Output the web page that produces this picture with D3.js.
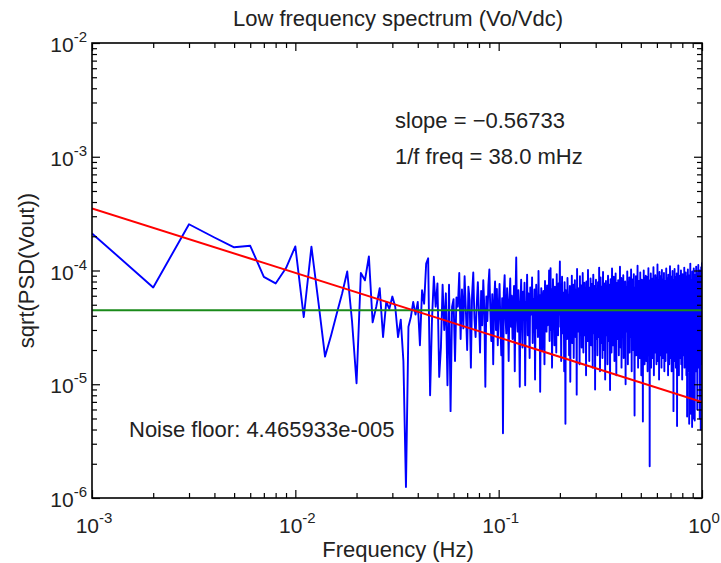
<!DOCTYPE html>
<html>
<head>
<meta charset="utf-8">
<script src="https://cdn.jsdelivr.net/npm/d3@7"></script>
<style>
  body { margin: 0; background: #fff; }
  text { font-family: "Liberation Sans", Arial, sans-serif; fill: #222; }
</style>
</head>
<body>
<svg id="drawing_region"></svg>
<script>
// spectrum bins, 1 mHz apart, starting at 1 mHz
const freqStep = 0.001;
// sqrt(PSD), in units of 1e-5
const psd = [
 21.2, 7.1, 25.5, 19.5, 16.0, 16.5, 8.8, 7.7, 10.5, 16.3, 3.9, 16.2, 5.2, 1.75, 2.7, 4.2, 6.3, 9.8, 3.6, 1.02,
 9.5, 8.2, 13.3, 3.5, 4.8, 7.0, 2.6, 5.3, 4.6, 5.9, 4.8, 2.6, 3.7, 1.6, 0.125, 3.2, 3.9, 5.3, 4.1, 5.3,
 2.2, 6.7, 5.1, 11.5, 12.8, 0.8, 3.7, 8.8, 4.8, 7.7, 1.16, 2.1, 7.5, 3.0, 6.3, 0.98, 7.5, 0.58, 4.8, 5.6,
 1.6, 5.8, 4.8, 9.5, 2.5,
 6.8, 3.1, 8.9, 4.4, 2.0, 7.2, 5.5, 1.4, 6.1, 9.6, 3.8, 2.6, 5.0, 7.9, 4.1, 1.9, 6.6, 3.3, 8.2, 4.7,
 0.95, 5.9, 3.6, 7.4, 10.2, 4.3, 2.4, 6.2, 1.5, 5.2, 8.0, 3.0, 6.9, 2.2, 4.6, 7.6, 3.4, 1.8, 5.7, 0.37,
 6.4, 9.1, 3.9, 2.8, 7.0, 4.9, 1.6, 5.4, 8.5, 3.2, 6.0, 2.5, 4.4, 7.3, 1.3, 5.8, 13.0, 4.0, 2.9, 6.7,
 3.5, 0.95, 5.1, 8.3, 4.2, 2.1, 6.5, 3.7, 7.8, 0.98, 5.3, 4.5, 9.2, 2.7, 6.3, 3.9, 1.7, 7.1, 5.0, 4.1,
 8.7, 2.3, 5.6, 3.4, 6.8, 1.1, 4.8, 7.5, 3.1, 5.9, 2.6, 9.9, 4.3, 6.1, 0.86, 3.6, 7.0, 4.7, 2.0, 5.5,
 6.6, 3.8, 1.5, 8.1, 4.6, 5.2, 2.9, 7.4, 3.3, 6.0, 4.0, 10.0, 2.4, 5.7, 10.5, 3.0, 6.9, 1.4, 4.9, 8.4,
 3.7, 5.3, 2.2, 7.2, 4.4, 6.3, 1.9, 9.3, 3.5, 5.0, 2.7, 7.7, 4.1, 6.2, 12.0, 3.2, 5.8, 1.6, 4.5, 8.8,
 2.8, 6.4, 3.9, 5.1, 1.3, 7.9, 4.2, 0.45, 6.7, 3.4, 5.6, 2.5, 8.6, 4.8, 3.0, 6.1, 1.8, 5.4, 7.3, 1.05,
 4.0, 6.9, 3.6, 9.0, 2.3, 5.2, 4.7, 7.5, 1.7, 6.0, 3.1, 8.2, 4.4, 2.6, 5.7, 6.8, 0.81, 10.3, 3.8, 5.0,
 7.0, 2.9, 4.6, 6.3, 1.5, 8.9, 3.5, 5.5, 4.1, 7.4, 2.1, 6.2, 3.9, 9.5, 4.8, 1.9, 5.9, 3.3, 7.8, 4.3,
 2.7, 6.5, 5.1, 1.2, 8.0, 3.7, 4.9, 6.7, 2.4, 10.1, 3.2, 5.3, 7.1, 1.6, 4.5, 6.0, 3.0, 8.5, 5.6, 2.2,
 4.2, 7.6, 3.6, 5.8, 1.4, 6.6, 9.2, 2.8, 4.7, 5.4, 3.4, 7.3, 0.9, 6.1, 4.0, 8.3, 2.5, 5.0, 3.8, 6.9,
 1.8, 4.4, 7.9, 3.1, 5.7, 2.6, 10.6, 4.6, 6.4, 1.3, 3.9, 8.7, 5.2, 2.3, 6.8, 4.1, 7.2, 3.5, 1.7, 5.5,
 9.7, 3.0, 6.2, 4.8, 2.0, 7.7, 5.1, 3.7, 1.1, 6.5, 4.3, 8.1, 2.7, 5.9, 3.3, 7.0, 4.9, 1.5, 6.3, 9.0,
 3.6, 5.3, 2.4, 7.5, 4.5, 6.0, 2.9, 0.89, 5.6, 8.4, 3.8, 4.7, 6.7, 1.9, 5.0, 10.4, 3.2, 7.3, 4.0, 2.2,
 6.1, 4.6, 8.8, 3.4, 5.4, 1.6, 7.1, 4.2, 2.8, 6.6, 9.4, 3.9, 5.2, 1.2, 6.9, 4.4, 3.0, 7.8, 5.7, 2.5,
 4.8, 8.2, 3.5, 6.3, 1.8, 5.1, 7.4, 2.6, 4.1, 10.8, 3.7, 5.9, 2.1, 6.5, 4.6, 8.6, 1.4, 5.5, 3.3, 7.0,
 4.3, 2.7, 6.8, 5.0, 9.1, 3.1, 1.7, 7.6, 4.9, 5.8, 2.3, 6.2, 3.8, 8.0, 4.5, 1.0, 6.4, 5.3, 3.4, 7.2,
 2.9, 5.6, 4.0, 9.8, 3.6, 6.7, 1.5, 4.7, 7.9, 2.4, 5.2, 3.9, 6.1, 8.7, 1.9, 4.4, 5.9, 3.2, 7.3, 2.6,
 6.0, 4.2, 10.2, 3.5, 5.4, 1.3, 7.7, 4.8, 2.8, 6.6, 3.7, 8.4, 5.1, 2.0, 6.3, 4.5, 9.3, 3.0, 5.7, 1.6,
 0.53, 4.1, 7.1, 5.5, 3.3, 6.9, 2.5, 8.9, 4.6, 1.8, 5.8, 3.9, 7.5, 4.3, 2.2, 6.5, 11.0, 3.4, 5.0, 1.4,
 6.2, 4.7, 3.1, 8.1, 5.3, 2.7, 7.0, 4.0, 1.7, 6.8, 3.6, 9.6, 4.9, 2.3, 5.6, 7.4, 3.8, 1.2, 6.1, 4.4,
 8.3, 2.9, 5.2, 3.5, 6.7, 1.9, 0.47, 7.8, 4.6, 5.9, 3.2, 10.0, 2.4, 6.4, 4.1, 8.6, 1.5, 5.4, 3.7, 7.2,
 4.8, 2.1, 6.0, 9.0, 3.3, 5.1, 1.6, 7.6, 4.3, 6.6, 2.8, 5.7, 3.9, 8.8, 1.3, 4.5, 7.0, 3.0, 5.5, 10.5,
 2.6, 6.3, 4.0, 1.8, 7.3, 5.0, 3.4, 0.19, 6.9, 4.7, 8.2, 2.3, 5.8, 3.6, 9.4, 4.2, 1.4, 6.5, 5.3, 2.9,
 7.7, 4.4, 3.1, 6.1, 1.7, 8.5, 5.6, 3.8, 4.9, 2.2, 7.1, 10.7, 3.3, 5.2, 1.2, 6.7, 4.6, 8.0, 2.7, 5.9,
 3.5, 6.4, 1.9, 4.1, 9.1, 5.4, 2.5, 7.4, 4.8, 3.0, 6.2, 1.5, 8.7, 5.0, 3.7, 6.8, 2.1, 4.3, 11.3, 3.2,
 5.7, 1.6, 7.2, 4.5, 6.0, 2.8, 8.3, 3.9, 5.1, 1.1, 6.6, 4.2, 9.7, 2.4, 5.5, 3.4, 7.0, 4.7, 1.8, 6.3,
 3.6, 8.9, 5.3, 2.6, 4.0, 7.5, 1.4, 6.1, 4.9, 10.1, 3.1, 5.8, 2.2, 7.8, 4.4, 3.8, 6.5, 1.7, 5.2, 8.4,
 3.3, 4.6, 6.9, 2.0, 9.5, 5.0, 3.5, 1.3, 7.1, 4.1, 6.2, 2.7, 5.6, 8.1, 3.9, 4.8, 1.6, 7.6, 5.4, 3.0,
 6.7, 10.4, 2.3, 4.3, 5.9, 1.9, 7.3, 3.7, 6.0, 4.5, 2.5, 8.6, 5.1, 3.2, 6.4, 1.2, 4.7, 9.2, 3.6, 5.7,
 2.8, 7.0, 4.0, 6.6, 1.5, 5.3, 8.0, 3.4, 4.9, 2.1, 10.9, 6.1, 3.8, 5.5, 1.7, 7.4, 4.2, 2.6, 6.8, 5.0,
 3.1, 8.8, 4.6, 1.3, 6.3, 5.8, 3.5, 7.7, 2.4, 4.4, 9.9, 3.9, 6.0, 1.8, 5.2, 7.2, 2.9, 4.8, 0.58, 6.5,
 4.1, 8.3, 3.3, 5.6, 2.0, 6.9, 4.7, 10.3, 3.0, 5.4, 1.6, 7.5, 4.3, 6.2, 2.7, 5.1, 8.7, 3.7, 1.4, 6.6,
 4.9, 3.2, 7.1, 5.7, 2.2, 9.4, 4.0, 6.4, 0.43, 3.6, 5.3, 8.0, 2.5, 6.1, 4.5, 1.9, 7.8, 5.0, 3.4, 11.1,
 4.2, 6.7, 2.8, 5.5, 1.2, 7.3, 4.8, 3.1, 8.5, 5.9, 2.3, 6.0, 4.4, 9.0, 3.5, 1.7, 6.8, 5.2, 3.8, 7.6,
 2.6, 4.6, 10.0, 3.3, 5.8, 1.5, 6.5, 4.1, 7.2, 2.9, 5.4, 8.2, 3.7, 1.1, 6.3, 4.9, 3.0, 9.3, 5.1, 2.4,
 6.9, 4.3, 7.7, 3.6, 1.8, 5.6, 8.6, 4.0, 2.7, 6.2, 5.0, 3.2, 10.6, 4.7, 1.4, 6.6, 3.9, 7.4, 5.3, 2.1,
 4.5, 8.1, 3.4, 6.0, 1.6, 5.7, 9.6, 2.8, 4.2, 7.0, 3.1, 5.5, 1.2, 6.8, 4.8, 8.9, 2.5, 5.2, 3.7, 0.52,
 6.4, 4.4, 7.9, 3.0, 5.9, 2.2, 10.2, 4.6, 1.7, 6.1, 3.5, 8.4, 5.0, 2.7, 4.1, 7.3, 1.3, 6.7, 3.8, 0.45,
 5.4, 9.1, 4.0, 2.9, 6.5, 3.3, 7.6, 1.5, 5.1, 4.7, 11.5, 2.4, 6.2, 3.6, 8.0, 4.3, 0.55, 5.8, 7.1, 3.1,
 4.9, 2.0, 6.9, 5.5, 1.4, 8.3, 3.9, 6.0, 0.42, 4.4, 9.8, 3.2, 5.6, 2.6, 7.4, 4.1, 1.8, 6.6, 5.2, 3.4,
 0.5, 7.8, 4.7, 2.3, 6.3, 10.4, 3.7, 5.0, 1.1, 6.8, 4.2, 8.7, 2.8, 5.7, 3.3, 0.48, 7.2, 4.5, 6.1, 2.5,
 9.2, 3.8, 5.3, 1.6, 6.6, 4.0, 7.9, 2.9, 5.6, 3.5, 10.8, 4.6, 1.3, 6.2, 5.1, 3.0, 8.4, 4.3, 2.2, 7.0,
 3.6, 5.9, 0.6, 6.7, 4.8, 9.5, 2.7, 5.4, 3.9, 7.5, 1.7, 4.4, 6.3, 11.2, 3.2, 5.0, 2.4, 7.7, 4.1, 6.0,
 1.4, 8.5, 3.4, 5.5, 4.7, 2.1, 6.9, 10.0, 3.7, 0.5, 5.2, 7.3, 2.8, 4.3, 6.5, 1.9, 9.0, 3.1, 5.8, 4.9,
 0.4, 7.1, 3.5, 6.2, 2.5, 10.7, 4.6, 5.3, 1.5, 8.1, 3.9, 6.4, 2.9, 11.6, 4.2
];
const psdUnit = 1e-5;

const noiseFloor = 4.465933e-5;
const fitSlope = -0.56733;
const fitAt1Hz = 6.99e-6;      // value of the 1/f fit at 1 Hz
const cornerFreq_mHz = 38.0;

const xTickExps = [-3, -2, -1, 0];
const yTickExps = [-6, -5, -4, -3, -2];

const config = {
    parent: '#drawing_region',
    width: 721,
    height: 563,
    margin: {top: 43, right: 19, bottom: 65, left: 92}
};

class SpectrumPlot {
    constructor(config, data) {
        this.config = config;
        this.data = data;
        this.init();
    }

    init() {
        let self = this;
        const m = self.config.margin;
        self.svg = d3.select(self.config.parent)
            .attr('width', self.config.width)
            .attr('height', self.config.height);
        self.inner_width = self.config.width - m.left - m.right;
        self.inner_height = self.config.height - m.top - m.bottom;
        self.chart = self.svg.append('g')
            .attr('transform', `translate(${m.left}, ${m.top})`);

        self.xscale = d3.scaleLog()
            .domain([Math.pow(10, xTickExps[0]), Math.pow(10, xTickExps[xTickExps.length - 1])])
            .range([0, self.inner_width]);
        self.yscale = d3.scaleLog()
            .domain([Math.pow(10, yTickExps[0]), Math.pow(10, yTickExps[yTickExps.length - 1])])
            .range([self.inner_height, 0]);
    }

    render() {
        let self = this;
        const W = self.inner_width, H = self.inner_height;

        self.chart.append('clipPath').attr('id', 'clip')
            .append('rect').attr('width', W).attr('height', H);

        const plot = self.chart.append('g').attr('clip-path', 'url(#clip)');

        const line = d3.line()
            .x(d => self.xscale(d.f))
            .y(d => self.yscale(d.v));

        plot.append('path')
            .datum(self.data)
            .attr('fill', 'none')
            .attr('stroke', '#0000ff')
            .attr('stroke-width', 1.9)
            .attr('stroke-linejoin', 'round')
            .attr('d', line);

        const [f0, f1] = self.xscale.domain();
        plot.append('path')
            .datum([{f: f0, v: noiseFloor}, {f: f1, v: noiseFloor}])
            .attr('fill', 'none')
            .attr('stroke', '#1a8a1a')
            .attr('stroke-width', 2)
            .attr('d', line);

        plot.append('path')
            .datum([f0, f1].map(f => ({f: f, v: fitAt1Hz * Math.pow(f, fitSlope)})))
            .attr('fill', 'none')
            .attr('stroke', '#ff0000')
            .attr('stroke-width', 2)
            .attr('d', line);

        // ticks, all pointing inward on every side
        const decades = exps => exps.map(e => Math.pow(10, e));
        const minors = exps => {
            let out = [];
            exps.slice(0, -1).forEach(e => {
                for (let k = 2; k <= 9; k++) out.push(k * Math.pow(10, e));
            });
            return out;
        };
        const sides = [
            {axis: d3.axisBottom, scale: self.xscale, exps: xTickExps, t: `translate(0,${H})`},
            {axis: d3.axisTop, scale: self.xscale, exps: xTickExps, t: 'translate(0,0)'},
            {axis: d3.axisLeft, scale: self.yscale, exps: yTickExps, t: 'translate(0,0)'},
            {axis: d3.axisRight, scale: self.yscale, exps: yTickExps, t: `translate(${W},0)`}
        ];
        sides.forEach(s => {
            [[decades(s.exps), 8], [minors(s.exps), 5]].forEach(([vals, len]) => {
                const g = self.chart.append('g')
                    .attr('transform', s.t)
                    .call(s.axis(s.scale).tickValues(vals).tickSize(-len).tickFormat(''));
                g.select('.domain').remove();
                g.selectAll('line').attr('stroke', '#000').attr('stroke-width', 1.2);
            });
        });

        self.chart.append('rect')
            .attr('width', W).attr('height', H)
            .attr('fill', 'none')
            .attr('stroke', '#000')
            .attr('stroke-width', 1.6);

        // tick labels 10^n
        const xl = self.chart.selectAll('.xlab').data(xTickExps).enter()
            .append('text')
            .attr('x', d => self.xscale(Math.pow(10, d)) + 2)
            .attr('y', H + 35)
            .attr('text-anchor', 'middle')
            .attr('font-size', '21px');
        xl.append('tspan').text('10');
        xl.append('tspan').attr('dy', -10).attr('font-size', '15px').text(d => d);

        const yl = self.chart.selectAll('.ylab').data(yTickExps).enter()
            .append('text')
            .attr('x', -5)
            .attr('y', d => self.yscale(Math.pow(10, d)) + 9)
            .attr('text-anchor', 'end')
            .attr('font-size', '21px');
        yl.append('tspan').text('10');
        yl.append('tspan').attr('dy', -10).attr('font-size', '15px').text(d => d);

        // titles
        self.chart.append('text')
            .attr('x', W / 2 + 1)
            .attr('y', -17)
            .attr('text-anchor', 'middle')
            .attr('font-size', '22px')
            .text('Low frequency spectrum (Vo/Vdc)');

        self.chart.append('text')
            .attr('x', W / 2 + 1)
            .attr('y', H + 59)
            .attr('text-anchor', 'middle')
            .attr('font-size', '22px')
            .text('Frequency (Hz)');

        self.chart.append('text')
            .attr('transform', `translate(${-58}, ${H / 2}) rotate(-90)`)
            .attr('text-anchor', 'middle')
            .attr('font-size', '22px')
            .text('sqrt(PSD(Vout))');

        // annotations
        self.chart.append('text')
            .attr('x', 303).attr('y', 85)
            .attr('font-size', '22px')
            .text(`slope = \u2212${Math.abs(fitSlope).toFixed(5)}`);
        self.chart.append('text')
            .attr('x', 303).attr('y', 121)
            .attr('font-size', '22px')
            .text(`1/f freq = ${cornerFreq_mHz.toFixed(1)} mHz`);
        self.chart.append('text')
            .attr('x', 37).attr('y', 394)
            .attr('font-size', '22px')
            .text('Noise floor: 4.465933e-005');
    }
}

const data = psd.map((v, i) => ({f: (i + 1) * freqStep, v: v * psdUnit}));
const plot = new SpectrumPlot(config, data);
plot.render();
</script>
</body>
</html>
